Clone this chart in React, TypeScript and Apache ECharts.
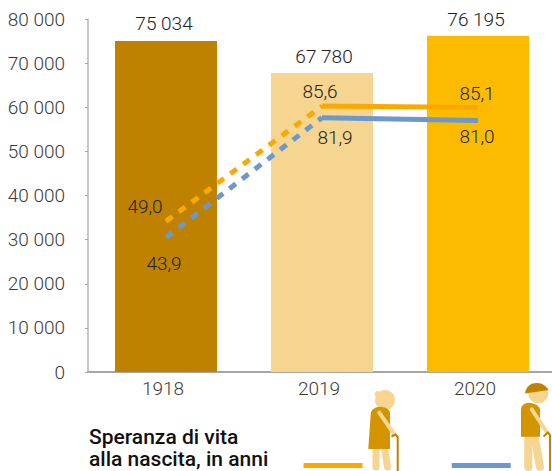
import React, { useEffect, useRef } from "react";
import * as echarts from "echarts";

const years = ["1918", "2019", "2020"];
const births = [75034, 67780, 76195];
const femaleLife = [49.0, 85.6, 85.1];
const maleLife = [43.9, 81.9, 81.0];
const yTicks = [0, 10000, 20000, 30000, 40000, 50000, 60000, 70000, 80000];
const legendTitle = "Speranza di vita\nalla nascita, in anni";

const BAR_COLORS = ["#BE8200", "#F5D58F", "#FDBB00"];
const BAR_LABEL_OFFSETS = [[-2, -1], [2, 0], [-2, 0]];
const ORANGE = "#FAA900";
const BLUE = "#6C98CB";
const DARK = "#D29500";
const LIGHT = "#F5D58F";
const CANE = "#BE8200";
const TEXT = "#3A3A3A";
const FONT = "Roboto";

echarts.graphic.registerShape("hat", echarts.graphic.extendPath("M525 393.5 C526 386 531 383 537 383 C542 383 546 386 548.5 390 Z", {}));
echarts.graphic.registerShape("dress", echarts.graphic.extendPath("M368.3 449 L370.7 414 C371 409 376 407 380 406.7 C385 407 390 409 390 413 L390 449 Z", {}));
echarts.graphic.registerShape("shirt", echarts.graphic.extendPath("M521 436.7 L521 410 C521 405 525 403 528.5 402.7 C535 403 540 406 540 410 L540 436.7 Z", {}));

const fmtThousands = (v: number) => String(v).replace(/\B(?=(\d{3})+$)/g, " ");
const fmtDec = (v: number) => v.toFixed(1).replace(".", ",");

const lineSeries = (
  values: number[],
  color: string,
  offsets: number[][],
) => {
  const label = (i: number) => ({
    show: true,
    position: "inside",
    offset: offsets[i],
    formatter: fmtDec(values[i]),
    fontFamily: FONT,
    fontWeight: 300,
    fontSize: 19,
    color: "#222",
  });
  return [
    {
      type: "line",
      yAxisIndex: 1,
      symbol: "circle",
      symbolSize: 1,
      silent: true,
      itemStyle: { color },
      lineStyle: { color, width: 5, type: [8, 8], cap: "butt" },
      data: [
        { value: values[0], label: label(0) },
        { value: values[1], label: label(1) },
        null,
      ],
      z: 5,
    },
    {
      type: "line",
      yAxisIndex: 1,
      symbol: "circle",
      symbolSize: 1,
      silent: true,
      itemStyle: { color },
      lineStyle: { color, width: 5 },
      data: [null, { value: values[1] }, { value: values[2], label: label(2) }],
      z: 5,
    },
  ];
};

const icon = (shape: any, style: any, type = "line") => ({ type, shape, style, silent: true });
const stroke = (x1: number, y1: number, x2: number, y2: number, color: string, w: number) =>
  icon({ x1, y1, x2, y2 }, { stroke: color, lineWidth: w, lineCap: "round" });

export default function App() {
  const ref = useRef<HTMLDivElement>(null);
  useEffect(() => {
    const chart = echarts.init(ref.current!, null, { renderer: "svg" });
    chart.setOption({
      animation: false,
      backgroundColor: "#fff",
      grid: { left: 88, top: 19, width: 468, height: 353, containLabel: false, outerBoundsMode: "none" },
      xAxis: {
        type: "category",
        data: years,
        axisLine: { lineStyle: { color: "#A6A6A6", width: 2 } },
        axisTick: { show: false },
        axisLabel: { fontFamily: FONT, fontWeight: 300, fontSize: 19, color: TEXT, margin: 7, padding: [0, 6, 0, 0] },
      },
      yAxis: [
        {
          type: "value",
          min: 0,
          max: 80000,
          interval: 10000,
          splitLine: { show: false },
          axisLine: { show: true, lineStyle: { color: "#B5B5B5", width: 1.5 } },
          axisTick: { show: true, length: 3, lineStyle: { color: "#A6A6A6", width: 1 } },
          axisLabel: {
            fontFamily: FONT,
            fontWeight: 300,
            fontSize: 19,
            color: TEXT,
            margin: 23,
            customValues: yTicks,
            formatter: (v: number) => fmtThousands(v),
          },
        },
        { type: "value", min: 1.2, max: 113.2, show: false, splitLine: { show: false } },
      ],
      series: [
        {
          type: "bar",
          barWidth: 102,
          silent: true,
          data: births.map((v, i) => ({
            value: v,
            itemStyle: { color: BAR_COLORS[i] },
            label: { offset: BAR_LABEL_OFFSETS[i] },
          })),
          label: {
            show: true,
            position: "top",
            distance: 7,
            fontFamily: FONT,
            fontWeight: 300,
            fontSize: 19,
            color: "#222",
            formatter: (p: any) => fmtThousands(p.value),
          },
        },
        ...lineSeries(femaleLife, ORANGE, [[-21, -15], [-2, -14], [-1, -14]]),
        ...lineSeries(maleLife, BLUE, [[-2, 26], [13, 20], [-1, 16]]),
      ],
      graphic: [
        {
          type: "text",
          left: 89,
          top: 426,
          silent: true,
          style: {
            text: legendTitle,
            fontFamily: FONT,
            fontWeight: 500,
            fontSize: 21,
            lineHeight: 22,
            fill: "#111",
          },
        },
        icon({ x: 303.5, y: 463, width: 59, height: 5 }, { fill: ORANGE }, "rect"),
        icon({ x: 451.7, y: 463, width: 59, height: 5 }, { fill: BLUE }, "rect"),
        // woman
        icon({ cx: 385, cy: 400, r: 10 }, { fill: LIGHT }, "circle"),
        icon({ cx: 377.7, cy: 394, r: 3 }, { fill: LIGHT }, "circle"),
        stroke(376, 451, 376, 467, LIGHT, 7),
        stroke(385, 451, 387.5, 467, LIGHT, 7),
        { type: "dress", silent: true, style: { fill: DARK } },
        stroke(379.3, 412.7, 394, 434, LIGHT, 4),
        icon({ points: [[391.5, 436.5], [395.5, 434.5], [397.7, 437], [397.7, 471]] }, { stroke: CANE, lineWidth: 2, fill: "none" }, "polyline"),
        // man
        icon({ cx: 538.3, cy: 393.3, r: 10 }, { fill: LIGHT }, "circle"),
        { type: "hat", silent: true, style: { fill: CANE } },
        stroke(528.3, 439, 528.3, 467, LIGHT, 8),
        stroke(535, 439, 540, 467, LIGHT, 8),
        { type: "shirt", silent: true, style: { fill: DARK } },
        stroke(531.7, 409.3, 547, 432.5, LIGHT, 4),
        icon({ points: [[543.5, 436.5], [548, 432.5], [550, 435], [550, 471]] }, { stroke: CANE, lineWidth: 2, fill: "none" }, "polyline"),
      ],
    });
    return () => chart.dispose();
  }, []);
  return (
    <div
      ref={ref}
      style={{ position: "absolute", left: 0, top: 0, width: 552, height: 471 }}
    />
  );
}
